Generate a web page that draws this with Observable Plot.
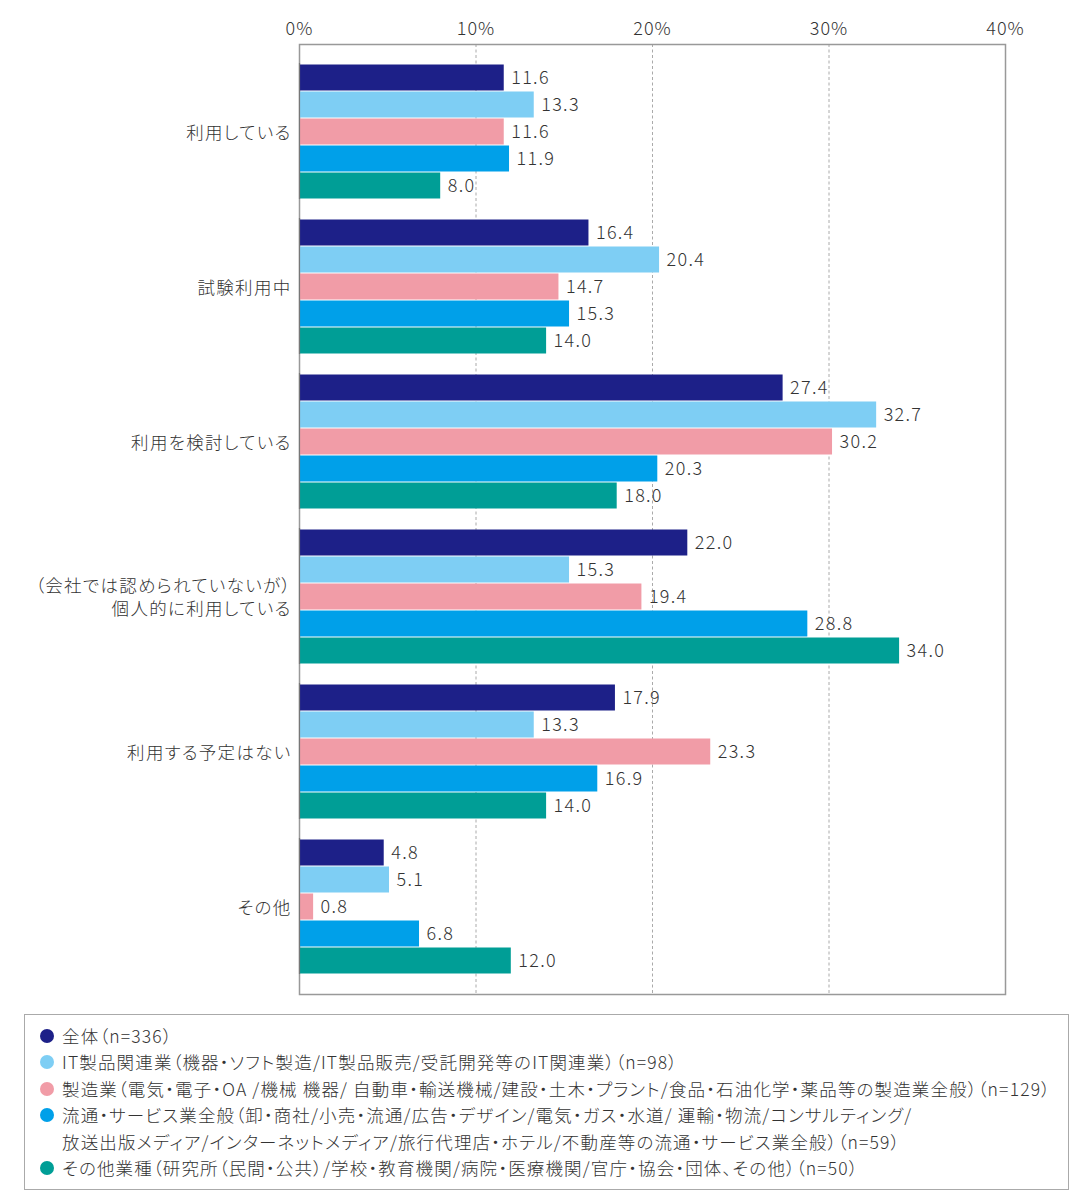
<!DOCTYPE html>
<html>
<head>
<meta charset="utf-8">
<script src="https://cdn.jsdelivr.net/npm/d3@7"></script>
<script src="https://cdn.jsdelivr.net/npm/@observablehq/plot@0.6"></script>
<style>
  body { margin: 0; background: #fff; font-family: "Noto Sans CJK JP", "Noto Sans", sans-serif; color: #333; }
  #wrap { position: relative; width: 1089px; height: 1200px; }
  #wrap svg { position: absolute; left: 0; top: 0; font-feature-settings: "palt"; }
  .vlab text { letter-spacing: 1.3px; }
  .xtick text { letter-spacing: 1px; }
  .cat text { letter-spacing: 1.3px; }
  #legend { position: absolute; left: 24px; top: 1014px; width: 1045px; height: 176px; border: 1.5px solid #aaa; box-sizing: border-box; padding: 8px 0 0 15px; font-size: 17.5px; line-height: 26.4px; color: #333; font-feature-settings: "palt"; font-weight: 300; letter-spacing: 1.15px; }
  .item { display: flex; align-items: flex-start; }
  .dot { flex: none; width: 14px; height: 14px; border-radius: 50%; margin-top: 6px; margin-right: 8px; }
</style>
</head>
<body>
<div id="wrap"><div id="legend"></div></div>
<script>
const categories = [
  "利用している",
  "試験利用中",
  "利用を検討している",
  "（会社では認められていないが）\n個人的に利用している",
  "利用する予定はない",
  "その他"
];
const seriesNames = [
  "全体（n=336）",
  "IT製品関連業（機器・ソフト製造/IT製品販売/受託開発等のIT関連業）（n=98）",
  "製造業（電気・電子・OA /機械 機器/ 自動車・輸送機械/建設・土木・プラント/食品・石油化学・薬品等の製造業全般）（n=129）",
  "流通・サービス業全般（卸・商社/小売・流通/広告・デザイン/電気・ガス・水道/ 運輸・物流/コンサルティング/\n放送出版メディア/インターネットメディア/旅行代理店・ホテル/不動産等の流通・サービス業全般）（n=59）",
  "その他業種（研究所（民間・公共）/学校・教育機関/病院・医療機関/官庁・協会・団体、その他）（n=50）"
];
const seriesColors = ["#1d2088", "#7ecef4", "#f19ca7", "#00a0e9", "#009e96"];
const vAll   = [11.6, 16.4, 27.4, 22.0, 17.9, 4.8];
const vIT    = [13.3, 20.4, 32.7, 15.3, 13.3, 5.1];
const vMfg   = [11.6, 14.7, 30.2, 19.4, 23.3, 0.8];
const vDist  = [11.9, 15.3, 20.3, 28.8, 16.9, 6.8];
const vOther = [8.0, 14.0, 18.0, 34.0, 14.0, 12.0];
const xTicks = [0, 10, 20, 30, 40];

const seriesValues = [vAll, vIT, vMfg, vDist, vOther];
const data = [];
categories.forEach((c, ci) => {
  seriesNames.forEach((s, si) => {
    data.push({category: c, series: s, value: seriesValues[si][ci]});
  });
});

const W = 1089, H = 1000;
const common = {
  width: W, height: H,
  marginTop: 44, marginBottom: 6, marginLeft: 299, marginRight: 84,
  style: {fontFamily: '"Noto Sans CJK JP", "Noto Sans", sans-serif', background: "transparent", color: "#333", fontWeight: 300}
};

// Background: axis, grid, frame
const back = Plot.plot({
  ...common,
  x: {domain: [0, 40], axis: null},
  marks: [
    Plot.ruleX([10, 20, 30], {stroke: "#aaa", strokeDasharray: "3,2.5", strokeWidth: 1}),
    Plot.frame({stroke: "#999", strokeWidth: 1.5}),
    Plot.axisX(xTicks, {anchor: "top", tickSize: 0, tickPadding: 10, tickFormat: d => d + "%", fontSize: 18, fill: "#333", className: "xtick"})
  ]
});

// Foreground: bars and labels
const front = Plot.plot({
  ...common,
  x: {domain: [0, 40], axis: null},
  fy: {domain: categories, paddingInner: 0.12, paddingOuter: 0.11, label: null},
  y: {domain: seriesNames, padding: 0, axis: null},
  color: {domain: seriesNames, range: seriesColors},
  marks: [
    Plot.barX(data, {fy: "category", y: "series", x: "value", fill: "series", insetTop: 0.5, insetBottom: 0.5}),
    Plot.text(data, {fy: "category", y: "series", x: "value", text: d => d.value.toFixed(1), textAnchor: "start", dx: 7, fontSize: 18, fill: "#333", className: "vlab"}),
    Plot.axisFy({anchor: "left", tickSize: 0, tickPadding: 8, fontSize: 17.5, fill: "#333", label: null, lineHeight: 1.3, className: "cat"}),
    Plot.ruleX([0], {stroke: "#777", strokeWidth: 1.2, facet: false})
  ]
});

const wrap = document.getElementById("wrap");
wrap.insertBefore(back, wrap.firstChild);
wrap.insertBefore(front, back.nextSibling);

// Legend
const legend = document.getElementById("legend");
seriesNames.forEach((s, i) => {
  const item = document.createElement("div");
  item.className = "item";
  const dot = document.createElement("span");
  dot.className = "dot";
  dot.style.background = seriesColors[i];
  const txt = document.createElement("span");
  txt.style.whiteSpace = "pre";
  txt.textContent = s;
  item.appendChild(dot);
  item.appendChild(txt);
  legend.appendChild(item);
});
</script>
</body>
</html>
